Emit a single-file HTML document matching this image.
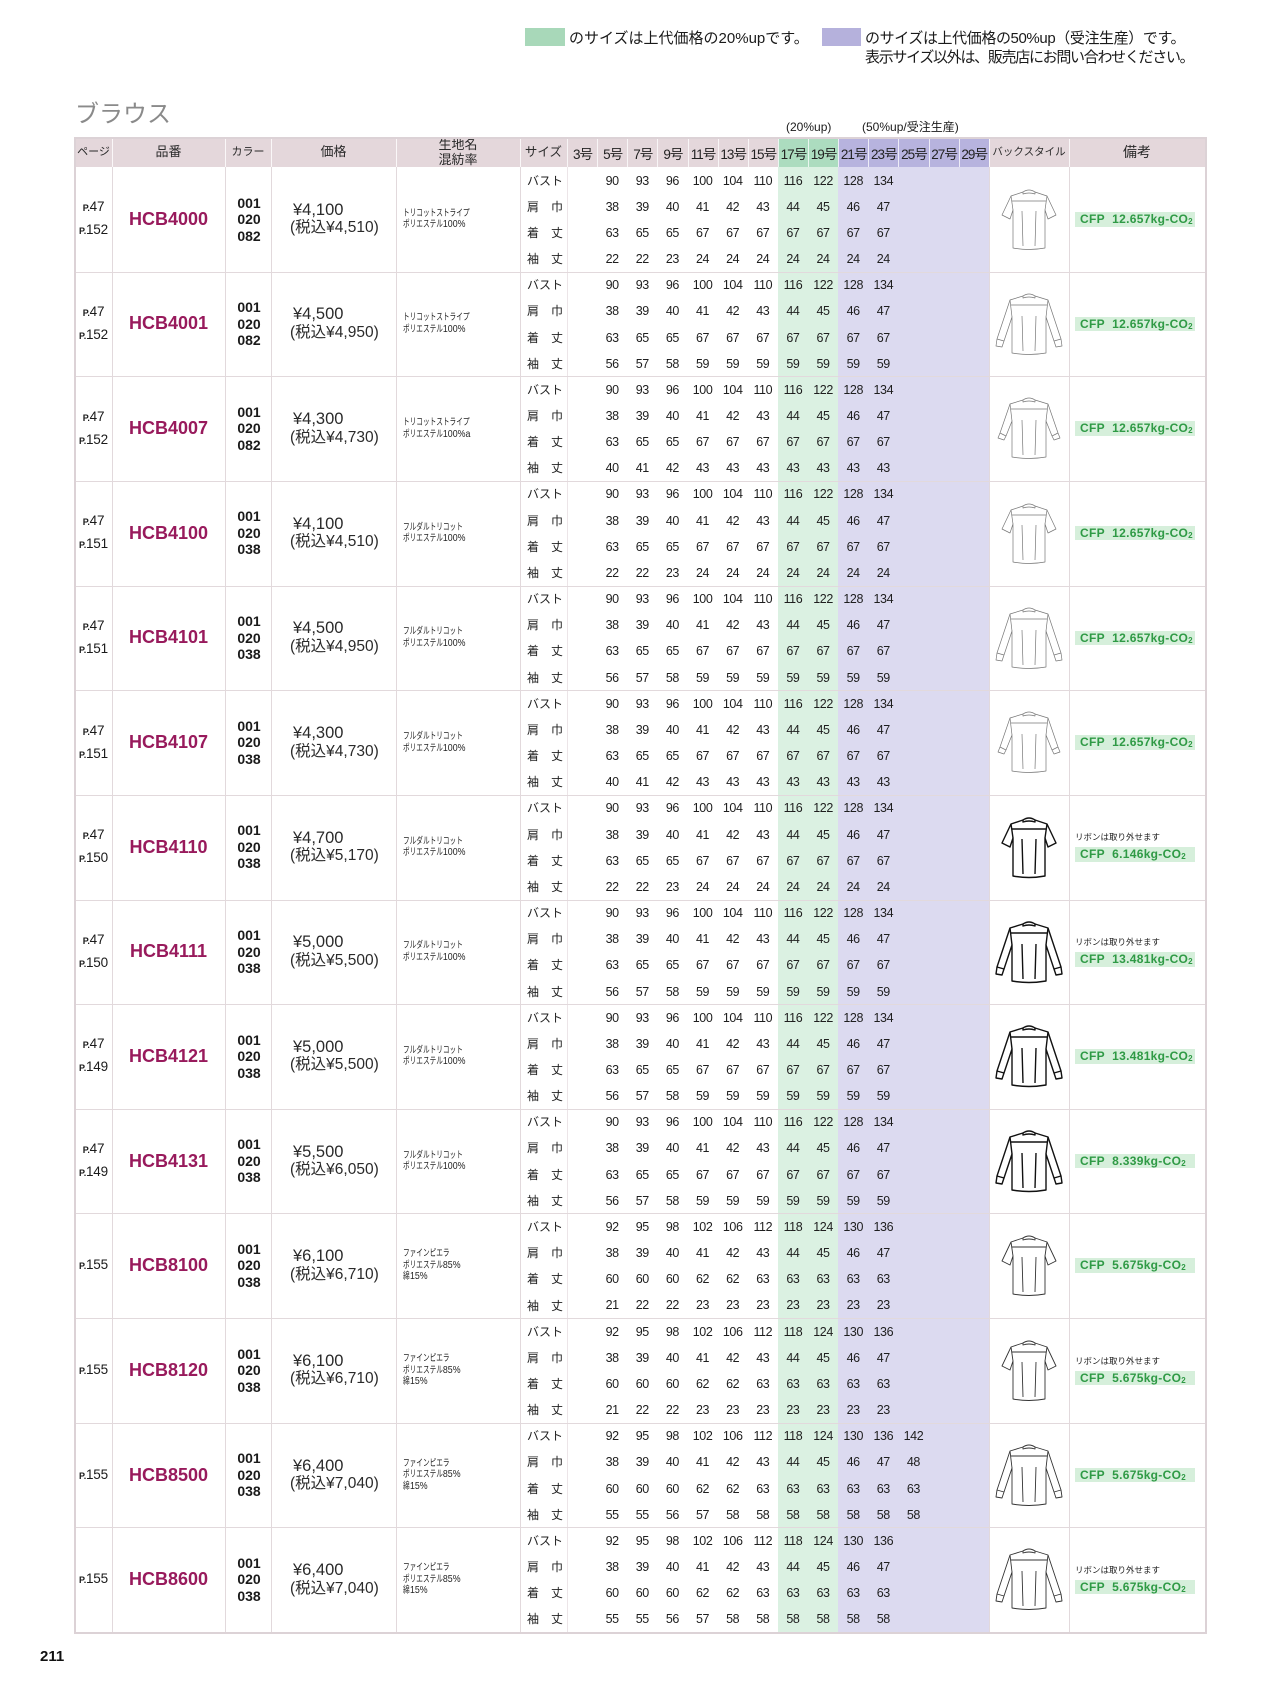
<!DOCTYPE html>
<html lang="ja"><head><meta charset="utf-8">
<style>
*{margin:0;padding:0;box-sizing:border-box}
body{width:1280px;height:1707px;position:relative;overflow:hidden;background:#fff;font-family:"Liberation Sans","Noto Sans CJK JP",sans-serif;color:#1a1a1a}
.a{position:absolute}
.hd{position:absolute;top:138px;height:29px;display:flex;align-items:center;justify-content:center;text-align:center;font-size:13px;line-height:14.5px;color:#2a2a2a;white-space:nowrap}
.hsz{position:absolute;left:567px;top:138px;height:29px;display:flex}
.hsz i{font-style:normal;width:30.14px;height:29px;display:flex;align-items:center;justify-content:center;font-size:13.5px;letter-spacing:-1px;color:#222;border-left:1px solid rgba(255,255,255,.75)}
.vl{position:absolute;top:167px;height:1465px;width:1px;background:#e2d9dc}
.hl{position:absolute;left:75px;width:1130px;height:1px;background:#e2d9dc}
.hw{position:absolute;top:138px;height:29px;width:1px;background:rgba(255,255,255,.8)}
.r{position:absolute;left:0;width:1280px;height:104.64px}
.pg{position:absolute;left:75px;width:37px;top:0;height:100%;display:flex;align-items:center;justify-content:center;text-align:center;font-size:13.5px;line-height:22px;letter-spacing:-.2px}
.pg span{font-size:9px;font-weight:bold}
.hb{position:absolute;left:112px;width:113px;top:0;height:100%;display:flex;align-items:center;justify-content:center;font-size:18px;font-weight:bold;color:#981a5c}
.cl{position:absolute;left:225px;width:46px;top:0;height:100%;display:flex;align-items:center;justify-content:center;text-align:center;font-size:14px;font-weight:bold;line-height:16.5px;padding-left:2px}
.pr{position:absolute;left:271px;width:125px;top:0;height:100%;display:flex;flex-direction:column;justify-content:center;padding-left:22px;font-size:16.5px;line-height:17.5px;white-space:nowrap;color:#2a2a2a}
.pr small{font-size:15.5px;margin-left:-3px}
.fb{position:absolute;left:396px;width:124px;top:0;height:100%;display:flex;align-items:center;padding-left:7px}
.fb span{display:inline-block;font-size:9.5px;line-height:11.5px;transform:scaleX(.7);transform-origin:0 50%;white-space:nowrap;color:#222}
.fb em{font-style:normal;font-size:10.5px;display:inline-block;transform:scaleX(1.2);transform-origin:0 50%}
.sl{position:absolute;left:520px;width:47px;top:0;padding-top:.5px;padding-left:7px;font-size:12px;line-height:26.2px;white-space:nowrap;color:#222}
.sz{position:absolute;left:567px;top:.5px}
.sz p{display:flex;height:26.2px}
.sz i{font-style:normal;width:30.14px;text-align:center;font-size:12.5px;letter-spacing:-.4px;line-height:26.2px;color:#1e1e1e}
.bs{position:absolute;left:989px;top:17px;width:80px;height:70px}
.t1{fill:none;stroke:#777;stroke-width:.7;stroke-linejoin:round}
.t2{fill:none;stroke:#111;stroke-width:1.4;stroke-linejoin:round}
.t3{fill:none;stroke:#333;stroke-width:.9;stroke-linejoin:round}
.rm{position:absolute;left:1069px;width:136px;top:0;height:100%;display:flex;flex-direction:column;justify-content:center;padding-left:6px}
.cfp{display:block;width:120px;height:14.5px;background:#d6efdb;color:#2f9a45;font-weight:bold;font-size:12px;line-height:14.5px;padding-left:5px;letter-spacing:.3px;white-space:nowrap}
.cfp sub{font-size:8px;line-height:0;vertical-align:-1px;letter-spacing:0}
.nt{font-size:8.5px;line-height:11px;margin-bottom:4px;white-space:nowrap;color:#222}
</style></head><body>

<svg width="0" height="0" style="position:absolute">
<defs>
<symbol id="ss" viewBox="0 0 80 70">
<path d="M34,8 Q40,4 46,8 L46,10 Q40,8 34,10 Z"/>
<path d="M34,8 L22,12 L13,31 L21,35 L24,26 L24,64 Q40,67 56,64 L56,26 L59,35 L67,31 L58,12 L46,8"/>
<path d="M23,17 L57,17 M22,12 L24,26 M58,12 L56,26 M33,27 L34,62 M47,27 L46,62"/>
</symbol>
<symbol id="ls" viewBox="0 0 80 70">
<path d="M34,7 Q40,3 46,7 L46,9 Q40,7 34,9 Z"/>
<path d="M34,7 L21,11 L8,50 L7,57 L13,58 L15,52 L23,28 L23,64 Q40,67 57,64 L57,28 L65,52 L67,58 L73,57 L72,50 L59,11 L46,7"/>
<path d="M22,16 L58,16 M21,11 L23,28 M59,11 L57,28 M8,50 L15,52 M72,50 L65,52 M33,27 L34,62 M47,27 L46,62"/>
</symbol>
<symbol id="ts" viewBox="0 0 80 70">
<path d="M34,7 Q40,3 46,7 L46,9 Q40,7 34,9 Z"/>
<path d="M34,7 L21,11 L11,40 L9,45 L15,47 L17,43 L23,28 L23,64 Q40,67 57,64 L57,28 L63,43 L65,47 L71,45 L69,40 L59,11 L46,7"/>
<path d="M22,16 L58,16 M21,11 L23,28 M59,11 L57,28 M11,40 L17,43 M69,40 L63,43 M33,27 L34,62 M47,27 L46,62"/>
</symbol>
</defs></svg>

<!-- legend -->
<div class="a" style="left:525px;top:28px;width:40px;height:18px;background:#a8d8b9"></div>
<div class="a" style="left:569px;top:29px;font-size:15px;line-height:19px;white-space:nowrap">のサイズは上代価格の20%upです。</div>
<div class="a" style="left:822px;top:28px;width:39px;height:18px;background:#b5b1dc"></div>
<div class="a" style="left:865px;top:29px;font-size:15px;line-height:19px;white-space:nowrap"><span style="letter-spacing:-.4px">のサイズは上代価格の50%up（受注生産）です。</span><br><span style="letter-spacing:-1.3px">表示サイズ以外は、販売店にお問い合わせください。</span></div>

<!-- title -->
<div class="a" style="left:75px;top:102px;font-size:24px;line-height:26px;color:#8a8a8a;white-space:nowrap">ブラウス</div>
<div class="a" style="left:786px;top:120px;font-size:12px;line-height:14px;white-space:nowrap">(20%up)</div>
<div class="a" style="left:862px;top:120px;font-size:12px;line-height:14px;white-space:nowrap">(50%up/受注生産)</div>

<!-- backgrounds -->
<div class="a" style="left:75px;top:138px;width:1130px;height:29px;background:#e4d7db"></div>
<div class="a" style="left:778px;top:138px;width:60px;height:29px;background:#acdcbf"></div>
<div class="a" style="left:838px;top:138px;width:151px;height:29px;background:#b7b3de"></div>
<div class="a" style="left:778px;top:167px;width:60px;height:1465px;background:#dbf1e2"></div>
<div class="a" style="left:838px;top:167px;width:151px;height:1465px;background:#dcdaf0"></div>

<!-- header separators -->
<div class="hw" style="left:112px"></div><div class="hw" style="left:225px"></div><div class="hw" style="left:271px"></div><div class="hw" style="left:396px"></div><div class="hw" style="left:520px"></div><div class="hw" style="left:989px"></div><div class="hw" style="left:1069px"></div>

<!-- header labels -->
<div class="hd" style="left:75px;width:37px;font-size:11px">ページ</div>
<div class="hd" style="left:112px;width:113px">品番</div>
<div class="hd" style="left:225px;width:46px;font-size:11px">カラー</div>
<div class="hd" style="left:271px;width:125px">価格</div>
<div class="hd" style="left:396px;width:124px">生地名<br>混紡率</div>
<div class="hd" style="left:520px;width:47px;font-size:12.5px">サイズ</div>
<div class="hsz"><i>3号</i><i>5号</i><i>7号</i><i>9号</i><i>11号</i><i>13号</i><i>15号</i><i>17号</i><i>19号</i><i>21号</i><i>23号</i><i>25号</i><i>27号</i><i>29号</i></div>
<div class="hd" style="left:989px;width:80px;font-size:10.5px">バックスタイル</div>
<div class="hd" style="left:1069px;width:136px;font-size:14px">備考</div>

<!-- grid lines -->
<div class="vl" style="left:112px"></div><div class="vl" style="left:225px"></div><div class="vl" style="left:271px"></div><div class="vl" style="left:396px"></div><div class="vl" style="left:520px"></div><div class="vl" style="left:567px;background:#ece5e8"></div><div class="vl" style="left:989px"></div><div class="vl" style="left:1069px"></div>
<div class="hl" style="top:271.64px"></div><div class="hl" style="top:376.29px"></div><div class="hl" style="top:480.93px"></div><div class="hl" style="top:585.57px"></div><div class="hl" style="top:690.21px"></div><div class="hl" style="top:794.86px"></div><div class="hl" style="top:899.5px"></div><div class="hl" style="top:1004.14px"></div><div class="hl" style="top:1108.79px"></div><div class="hl" style="top:1213.43px"></div><div class="hl" style="top:1318.07px"></div><div class="hl" style="top:1422.71px"></div><div class="hl" style="top:1527.36px"></div>

<!-- ROW 1 -->
<div class="r" style="top:167px">
<div class="pg"><div><span>P.</span>47<br><span>P.</span>152</div></div>
<div class="hb">HCB4000</div>
<div class="cl">001<br>020<br>082</div>
<div class="pr"><div>¥4,100</div><small>(税込¥4,510)</small></div>
<div class="fb"><span>トリコットストライプ<br>ポリエステル<em>100%</em></span></div>
<div class="sl">バスト<br>肩　巾<br>着　丈<br>袖　丈</div>
<div class="sz"><p><i></i><i>90</i><i>93</i><i>96</i><i>100</i><i>104</i><i>110</i><i>116</i><i>122</i><i>128</i><i>134</i></p><p><i></i><i>38</i><i>39</i><i>40</i><i>41</i><i>42</i><i>43</i><i>44</i><i>45</i><i>46</i><i>47</i></p><p><i></i><i>63</i><i>65</i><i>65</i><i>67</i><i>67</i><i>67</i><i>67</i><i>67</i><i>67</i><i>67</i></p><p><i></i><i>22</i><i>22</i><i>23</i><i>24</i><i>24</i><i>24</i><i>24</i><i>24</i><i>24</i><i>24</i></p></div>
<svg class="bs" viewBox="0 0 80 70"><use href="#ss" width="80" height="70" class="t1"/></svg>
<div class="rm"><span class="cfp">CFP&nbsp; 12.657kg-CO<sub>2</sub></span></div>
</div>

<!-- ROW 2 -->
<div class="r" style="top:271.64px">
<div class="pg"><div><span>P.</span>47<br><span>P.</span>152</div></div>
<div class="hb">HCB4001</div>
<div class="cl">001<br>020<br>082</div>
<div class="pr"><div>¥4,500</div><small>(税込¥4,950)</small></div>
<div class="fb"><span>トリコットストライプ<br>ポリエステル<em>100%</em></span></div>
<div class="sl">バスト<br>肩　巾<br>着　丈<br>袖　丈</div>
<div class="sz"><p><i></i><i>90</i><i>93</i><i>96</i><i>100</i><i>104</i><i>110</i><i>116</i><i>122</i><i>128</i><i>134</i></p><p><i></i><i>38</i><i>39</i><i>40</i><i>41</i><i>42</i><i>43</i><i>44</i><i>45</i><i>46</i><i>47</i></p><p><i></i><i>63</i><i>65</i><i>65</i><i>67</i><i>67</i><i>67</i><i>67</i><i>67</i><i>67</i><i>67</i></p><p><i></i><i>56</i><i>57</i><i>58</i><i>59</i><i>59</i><i>59</i><i>59</i><i>59</i><i>59</i><i>59</i></p></div>
<svg class="bs" viewBox="0 0 80 70"><use href="#ls" width="80" height="70" class="t1"/></svg>
<div class="rm"><span class="cfp">CFP&nbsp; 12.657kg-CO<sub>2</sub></span></div>
</div>

<!-- ROW 3 -->
<div class="r" style="top:376.29px">
<div class="pg"><div><span>P.</span>47<br><span>P.</span>152</div></div>
<div class="hb">HCB4007</div>
<div class="cl">001<br>020<br>082</div>
<div class="pr"><div>¥4,300</div><small>(税込¥4,730)</small></div>
<div class="fb"><span>トリコットストライプ<br>ポリエステル<em>100%a</em></span></div>
<div class="sl">バスト<br>肩　巾<br>着　丈<br>袖　丈</div>
<div class="sz"><p><i></i><i>90</i><i>93</i><i>96</i><i>100</i><i>104</i><i>110</i><i>116</i><i>122</i><i>128</i><i>134</i></p><p><i></i><i>38</i><i>39</i><i>40</i><i>41</i><i>42</i><i>43</i><i>44</i><i>45</i><i>46</i><i>47</i></p><p><i></i><i>63</i><i>65</i><i>65</i><i>67</i><i>67</i><i>67</i><i>67</i><i>67</i><i>67</i><i>67</i></p><p><i></i><i>40</i><i>41</i><i>42</i><i>43</i><i>43</i><i>43</i><i>43</i><i>43</i><i>43</i><i>43</i></p></div>
<svg class="bs" viewBox="0 0 80 70"><use href="#ts" width="80" height="70" class="t1"/></svg>
<div class="rm"><span class="cfp">CFP&nbsp; 12.657kg-CO<sub>2</sub></span></div>
</div>

<!-- ROW 4 -->
<div class="r" style="top:480.93px">
<div class="pg"><div><span>P.</span>47<br><span>P.</span>151</div></div>
<div class="hb">HCB4100</div>
<div class="cl">001<br>020<br>038</div>
<div class="pr"><div>¥4,100</div><small>(税込¥4,510)</small></div>
<div class="fb"><span>フルダルトリコット<br>ポリエステル<em>100%</em></span></div>
<div class="sl">バスト<br>肩　巾<br>着　丈<br>袖　丈</div>
<div class="sz"><p><i></i><i>90</i><i>93</i><i>96</i><i>100</i><i>104</i><i>110</i><i>116</i><i>122</i><i>128</i><i>134</i></p><p><i></i><i>38</i><i>39</i><i>40</i><i>41</i><i>42</i><i>43</i><i>44</i><i>45</i><i>46</i><i>47</i></p><p><i></i><i>63</i><i>65</i><i>65</i><i>67</i><i>67</i><i>67</i><i>67</i><i>67</i><i>67</i><i>67</i></p><p><i></i><i>22</i><i>22</i><i>23</i><i>24</i><i>24</i><i>24</i><i>24</i><i>24</i><i>24</i><i>24</i></p></div>
<svg class="bs" viewBox="0 0 80 70"><use href="#ss" width="80" height="70" class="t1"/></svg>
<div class="rm"><span class="cfp">CFP&nbsp; 12.657kg-CO<sub>2</sub></span></div>
</div>

<!-- ROW 5 -->
<div class="r" style="top:585.57px">
<div class="pg"><div><span>P.</span>47<br><span>P.</span>151</div></div>
<div class="hb">HCB4101</div>
<div class="cl">001<br>020<br>038</div>
<div class="pr"><div>¥4,500</div><small>(税込¥4,950)</small></div>
<div class="fb"><span>フルダルトリコット<br>ポリエステル<em>100%</em></span></div>
<div class="sl">バスト<br>肩　巾<br>着　丈<br>袖　丈</div>
<div class="sz"><p><i></i><i>90</i><i>93</i><i>96</i><i>100</i><i>104</i><i>110</i><i>116</i><i>122</i><i>128</i><i>134</i></p><p><i></i><i>38</i><i>39</i><i>40</i><i>41</i><i>42</i><i>43</i><i>44</i><i>45</i><i>46</i><i>47</i></p><p><i></i><i>63</i><i>65</i><i>65</i><i>67</i><i>67</i><i>67</i><i>67</i><i>67</i><i>67</i><i>67</i></p><p><i></i><i>56</i><i>57</i><i>58</i><i>59</i><i>59</i><i>59</i><i>59</i><i>59</i><i>59</i><i>59</i></p></div>
<svg class="bs" viewBox="0 0 80 70"><use href="#ls" width="80" height="70" class="t1"/></svg>
<div class="rm"><span class="cfp">CFP&nbsp; 12.657kg-CO<sub>2</sub></span></div>
</div>

<!-- ROW 6 -->
<div class="r" style="top:690.21px">
<div class="pg"><div><span>P.</span>47<br><span>P.</span>151</div></div>
<div class="hb">HCB4107</div>
<div class="cl">001<br>020<br>038</div>
<div class="pr"><div>¥4,300</div><small>(税込¥4,730)</small></div>
<div class="fb"><span>フルダルトリコット<br>ポリエステル<em>100%</em></span></div>
<div class="sl">バスト<br>肩　巾<br>着　丈<br>袖　丈</div>
<div class="sz"><p><i></i><i>90</i><i>93</i><i>96</i><i>100</i><i>104</i><i>110</i><i>116</i><i>122</i><i>128</i><i>134</i></p><p><i></i><i>38</i><i>39</i><i>40</i><i>41</i><i>42</i><i>43</i><i>44</i><i>45</i><i>46</i><i>47</i></p><p><i></i><i>63</i><i>65</i><i>65</i><i>67</i><i>67</i><i>67</i><i>67</i><i>67</i><i>67</i><i>67</i></p><p><i></i><i>40</i><i>41</i><i>42</i><i>43</i><i>43</i><i>43</i><i>43</i><i>43</i><i>43</i><i>43</i></p></div>
<svg class="bs" viewBox="0 0 80 70"><use href="#ts" width="80" height="70" class="t1"/></svg>
<div class="rm"><span class="cfp">CFP&nbsp; 12.657kg-CO<sub>2</sub></span></div>
</div>

<!-- ROW 7 -->
<div class="r" style="top:794.86px">
<div class="pg"><div><span>P.</span>47<br><span>P.</span>150</div></div>
<div class="hb">HCB4110</div>
<div class="cl">001<br>020<br>038</div>
<div class="pr"><div>¥4,700</div><small>(税込¥5,170)</small></div>
<div class="fb"><span>フルダルトリコット<br>ポリエステル<em>100%</em></span></div>
<div class="sl">バスト<br>肩　巾<br>着　丈<br>袖　丈</div>
<div class="sz"><p><i></i><i>90</i><i>93</i><i>96</i><i>100</i><i>104</i><i>110</i><i>116</i><i>122</i><i>128</i><i>134</i></p><p><i></i><i>38</i><i>39</i><i>40</i><i>41</i><i>42</i><i>43</i><i>44</i><i>45</i><i>46</i><i>47</i></p><p><i></i><i>63</i><i>65</i><i>65</i><i>67</i><i>67</i><i>67</i><i>67</i><i>67</i><i>67</i><i>67</i></p><p><i></i><i>22</i><i>22</i><i>23</i><i>24</i><i>24</i><i>24</i><i>24</i><i>24</i><i>24</i><i>24</i></p></div>
<svg class="bs" viewBox="0 0 80 70"><use href="#ss" width="80" height="70" class="t2"/></svg>
<div class="rm"><div class="nt">リボンは取り外せます</div><span class="cfp">CFP&nbsp; 6.146kg-CO<sub>2</sub></span></div>
</div>

<!-- ROW 8 -->
<div class="r" style="top:899.5px">
<div class="pg"><div><span>P.</span>47<br><span>P.</span>150</div></div>
<div class="hb">HCB4111</div>
<div class="cl">001<br>020<br>038</div>
<div class="pr"><div>¥5,000</div><small>(税込¥5,500)</small></div>
<div class="fb"><span>フルダルトリコット<br>ポリエステル<em>100%</em></span></div>
<div class="sl">バスト<br>肩　巾<br>着　丈<br>袖　丈</div>
<div class="sz"><p><i></i><i>90</i><i>93</i><i>96</i><i>100</i><i>104</i><i>110</i><i>116</i><i>122</i><i>128</i><i>134</i></p><p><i></i><i>38</i><i>39</i><i>40</i><i>41</i><i>42</i><i>43</i><i>44</i><i>45</i><i>46</i><i>47</i></p><p><i></i><i>63</i><i>65</i><i>65</i><i>67</i><i>67</i><i>67</i><i>67</i><i>67</i><i>67</i><i>67</i></p><p><i></i><i>56</i><i>57</i><i>58</i><i>59</i><i>59</i><i>59</i><i>59</i><i>59</i><i>59</i><i>59</i></p></div>
<svg class="bs" viewBox="0 0 80 70"><use href="#ls" width="80" height="70" class="t2"/></svg>
<div class="rm"><div class="nt">リボンは取り外せます</div><span class="cfp">CFP&nbsp; 13.481kg-CO<sub>2</sub></span></div>
</div>

<!-- ROW 9 -->
<div class="r" style="top:1004.14px">
<div class="pg"><div><span>P.</span>47<br><span>P.</span>149</div></div>
<div class="hb">HCB4121</div>
<div class="cl">001<br>020<br>038</div>
<div class="pr"><div>¥5,000</div><small>(税込¥5,500)</small></div>
<div class="fb"><span>フルダルトリコット<br>ポリエステル<em>100%</em></span></div>
<div class="sl">バスト<br>肩　巾<br>着　丈<br>袖　丈</div>
<div class="sz"><p><i></i><i>90</i><i>93</i><i>96</i><i>100</i><i>104</i><i>110</i><i>116</i><i>122</i><i>128</i><i>134</i></p><p><i></i><i>38</i><i>39</i><i>40</i><i>41</i><i>42</i><i>43</i><i>44</i><i>45</i><i>46</i><i>47</i></p><p><i></i><i>63</i><i>65</i><i>65</i><i>67</i><i>67</i><i>67</i><i>67</i><i>67</i><i>67</i><i>67</i></p><p><i></i><i>56</i><i>57</i><i>58</i><i>59</i><i>59</i><i>59</i><i>59</i><i>59</i><i>59</i><i>59</i></p></div>
<svg class="bs" viewBox="0 0 80 70"><use href="#ls" width="80" height="70" class="t2"/></svg>
<div class="rm"><span class="cfp">CFP&nbsp; 13.481kg-CO<sub>2</sub></span></div>
</div>

<!-- ROW 10 -->
<div class="r" style="top:1108.79px">
<div class="pg"><div><span>P.</span>47<br><span>P.</span>149</div></div>
<div class="hb">HCB4131</div>
<div class="cl">001<br>020<br>038</div>
<div class="pr"><div>¥5,500</div><small>(税込¥6,050)</small></div>
<div class="fb"><span>フルダルトリコット<br>ポリエステル<em>100%</em></span></div>
<div class="sl">バスト<br>肩　巾<br>着　丈<br>袖　丈</div>
<div class="sz"><p><i></i><i>90</i><i>93</i><i>96</i><i>100</i><i>104</i><i>110</i><i>116</i><i>122</i><i>128</i><i>134</i></p><p><i></i><i>38</i><i>39</i><i>40</i><i>41</i><i>42</i><i>43</i><i>44</i><i>45</i><i>46</i><i>47</i></p><p><i></i><i>63</i><i>65</i><i>65</i><i>67</i><i>67</i><i>67</i><i>67</i><i>67</i><i>67</i><i>67</i></p><p><i></i><i>56</i><i>57</i><i>58</i><i>59</i><i>59</i><i>59</i><i>59</i><i>59</i><i>59</i><i>59</i></p></div>
<svg class="bs" viewBox="0 0 80 70"><use href="#ls" width="80" height="70" class="t2"/></svg>
<div class="rm"><span class="cfp">CFP&nbsp; 8.339kg-CO<sub>2</sub></span></div>
</div>

<!-- ROW 11 -->
<div class="r" style="top:1213.43px">
<div class="pg"><div><span>P.</span>155</div></div>
<div class="hb">HCB8100</div>
<div class="cl">001<br>020<br>038</div>
<div class="pr"><div>¥6,100</div><small>(税込¥6,710)</small></div>
<div class="fb"><span>ファインピエラ<br>ポリエステル<em>85%</em><br>綿<em>15%</em></span></div>
<div class="sl">バスト<br>肩　巾<br>着　丈<br>袖　丈</div>
<div class="sz"><p><i></i><i>92</i><i>95</i><i>98</i><i>102</i><i>106</i><i>112</i><i>118</i><i>124</i><i>130</i><i>136</i></p><p><i></i><i>38</i><i>39</i><i>40</i><i>41</i><i>42</i><i>43</i><i>44</i><i>45</i><i>46</i><i>47</i></p><p><i></i><i>60</i><i>60</i><i>60</i><i>62</i><i>62</i><i>63</i><i>63</i><i>63</i><i>63</i><i>63</i></p><p><i></i><i>21</i><i>22</i><i>22</i><i>23</i><i>23</i><i>23</i><i>23</i><i>23</i><i>23</i><i>23</i></p></div>
<svg class="bs" viewBox="0 0 80 70"><use href="#ss" width="80" height="70" class="t3"/></svg>
<div class="rm"><span class="cfp">CFP&nbsp; 5.675kg-CO<sub>2</sub></span></div>
</div>

<!-- ROW 12 -->
<div class="r" style="top:1318.07px">
<div class="pg"><div><span>P.</span>155</div></div>
<div class="hb">HCB8120</div>
<div class="cl">001<br>020<br>038</div>
<div class="pr"><div>¥6,100</div><small>(税込¥6,710)</small></div>
<div class="fb"><span>ファインピエラ<br>ポリエステル<em>85%</em><br>綿<em>15%</em></span></div>
<div class="sl">バスト<br>肩　巾<br>着　丈<br>袖　丈</div>
<div class="sz"><p><i></i><i>92</i><i>95</i><i>98</i><i>102</i><i>106</i><i>112</i><i>118</i><i>124</i><i>130</i><i>136</i></p><p><i></i><i>38</i><i>39</i><i>40</i><i>41</i><i>42</i><i>43</i><i>44</i><i>45</i><i>46</i><i>47</i></p><p><i></i><i>60</i><i>60</i><i>60</i><i>62</i><i>62</i><i>63</i><i>63</i><i>63</i><i>63</i><i>63</i></p><p><i></i><i>21</i><i>22</i><i>22</i><i>23</i><i>23</i><i>23</i><i>23</i><i>23</i><i>23</i><i>23</i></p></div>
<svg class="bs" viewBox="0 0 80 70"><use href="#ss" width="80" height="70" class="t3"/></svg>
<div class="rm"><div class="nt">リボンは取り外せます</div><span class="cfp">CFP&nbsp; 5.675kg-CO<sub>2</sub></span></div>
</div>

<!-- ROW 13 -->
<div class="r" style="top:1422.71px">
<div class="pg"><div><span>P.</span>155</div></div>
<div class="hb">HCB8500</div>
<div class="cl">001<br>020<br>038</div>
<div class="pr"><div>¥6,400</div><small>(税込¥7,040)</small></div>
<div class="fb"><span>ファインピエラ<br>ポリエステル<em>85%</em><br>綿<em>15%</em></span></div>
<div class="sl">バスト<br>肩　巾<br>着　丈<br>袖　丈</div>
<div class="sz"><p><i></i><i>92</i><i>95</i><i>98</i><i>102</i><i>106</i><i>112</i><i>118</i><i>124</i><i>130</i><i>136</i><i>142</i></p><p><i></i><i>38</i><i>39</i><i>40</i><i>41</i><i>42</i><i>43</i><i>44</i><i>45</i><i>46</i><i>47</i><i>48</i></p><p><i></i><i>60</i><i>60</i><i>60</i><i>62</i><i>62</i><i>63</i><i>63</i><i>63</i><i>63</i><i>63</i><i>63</i></p><p><i></i><i>55</i><i>55</i><i>56</i><i>57</i><i>58</i><i>58</i><i>58</i><i>58</i><i>58</i><i>58</i><i>58</i></p></div>
<svg class="bs" viewBox="0 0 80 70"><use href="#ls" width="80" height="70" class="t3"/></svg>
<div class="rm"><span class="cfp">CFP&nbsp; 5.675kg-CO<sub>2</sub></span></div>
</div>

<!-- ROW 14 -->
<div class="r" style="top:1527.36px">
<div class="pg"><div><span>P.</span>155</div></div>
<div class="hb">HCB8600</div>
<div class="cl">001<br>020<br>038</div>
<div class="pr"><div>¥6,400</div><small>(税込¥7,040)</small></div>
<div class="fb"><span>ファインピエラ<br>ポリエステル<em>85%</em><br>綿<em>15%</em></span></div>
<div class="sl">バスト<br>肩　巾<br>着　丈<br>袖　丈</div>
<div class="sz"><p><i></i><i>92</i><i>95</i><i>98</i><i>102</i><i>106</i><i>112</i><i>118</i><i>124</i><i>130</i><i>136</i></p><p><i></i><i>38</i><i>39</i><i>40</i><i>41</i><i>42</i><i>43</i><i>44</i><i>45</i><i>46</i><i>47</i></p><p><i></i><i>60</i><i>60</i><i>60</i><i>62</i><i>62</i><i>63</i><i>63</i><i>63</i><i>63</i><i>63</i></p><p><i></i><i>55</i><i>55</i><i>56</i><i>57</i><i>58</i><i>58</i><i>58</i><i>58</i><i>58</i><i>58</i></p></div>
<svg class="bs" viewBox="0 0 80 70"><use href="#ls" width="80" height="70" class="t3"/></svg>
<div class="rm"><div class="nt">リボンは取り外せます</div><span class="cfp">CFP&nbsp; 5.675kg-CO<sub>2</sub></span></div>
</div>

<!-- outer border -->
<div class="a" style="left:74px;top:137px;width:1133px;height:1497px;border:2px solid #dcd2d6"></div>

<!-- page number -->
<div class="a" style="left:40px;top:1648px;font-size:15px;line-height:18px;font-weight:bold;color:#111">211</div>

</body></html>
